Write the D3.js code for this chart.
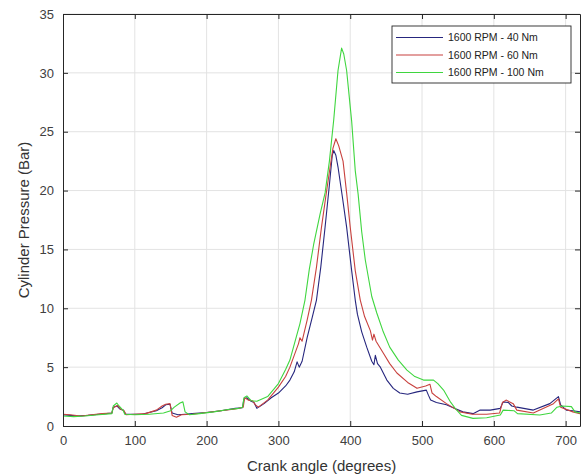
<!DOCTYPE html>
<html>
<head>
<meta charset="utf-8">
<script src="https://cdn.jsdelivr.net/npm/d3@7/dist/d3.min.js"></script>
<style>
  body { margin: 0; background: #fff; }
  svg { display: block; font-family: "Liberation Sans", Arial, sans-serif; }
</style>
</head>
<body>
<svg width="588" height="476"></svg>
<script>
// series: [crank angle (deg), cylinder pressure (bar)]
var series40 = [
  [0,0.95],[10,0.9],[20,0.85],[35,0.9],[50,1.0],[60,1.05],[68,1.1],[70,1.6],[75,1.7],[79,1.45],[84,1.35],[87,1.0],
  [100,1.0],[110,1.0],[120,1.15],[130,1.3],[138,1.55],[143,1.8],[149,1.85],[152,1.1],[160,0.95],[170,1.0],[180,1.05],
  [200,1.15],[220,1.3],[240,1.5],[250,1.55],[252,2.3],[256,2.4],[262,2.1],[266,2.0],[270,1.5],[280,1.9],[290,2.4],
  [300,2.8],[310,3.4],[316,3.9],[322,4.6],[326,5.45],[329,5.0],[333,5.5],[340,7.5],[347,9.2],[353,10.7],[359,13.5],
  [365,16.9],[371,20.5],[375,23.0],[377,23.4],[380,23.0],[383,22.0],[389,19.5],[395,16.9],[402,13.2],[407,10.7],
  [410,9.5],[416,8.0],[423,6.7],[430,5.5],[433,5.2],[435,6.0],[438,5.3],[442,5.0],[451,3.9],[460,3.2],[469,2.8],
  [480,2.7],[493,2.9],[506,3.05],[509,2.6],[512,2.2],[520,2.0],[534,1.8],[545,1.5],[557,1.2],[571,1.05],[581,1.35],
  [595,1.35],[609,1.5],[613,2.05],[620,2.0],[625,1.7],[632,1.6],[655,1.35],[678,1.9],[690,2.5],[693,1.8],[701,1.35],
  [710,1.3],[720,1.2]
];
var series60 = [
  [0,1.0],[10,0.95],[25,0.85],[40,0.95],[55,1.05],[68,1.1],[70,1.55],[76,1.75],[80,1.45],[85,1.3],[88,0.95],
  [100,1.0],[115,1.05],[130,1.35],[138,1.7],[143,1.85],[149,1.9],[152,0.9],[158,0.75],[165,0.95],[180,1.0],
  [200,1.15],[220,1.3],[240,1.45],[251,1.6],[253,2.4],[258,2.2],[264,2.15],[268,1.8],[272,1.6],[285,2.2],
  [300,3.3],[310,4.2],[316,5.0],[322,6.0],[328,7.0],[330,7.5],[333,7.2],[340,9.0],[346,10.7],[353,13.5],
  [360,16.9],[366,19.5],[372,22.0],[376,23.6],[380,24.4],[384,23.8],[390,22.5],[395,19.8],[400,16.9],[407,13.2],
  [414,10.7],[420,9.3],[428,8.1],[431,7.3],[433,7.8],[436,7.2],[446,6.2],[455,5.3],[465,4.5],[480,3.7],[493,3.2],
  [505,3.4],[511,3.55],[514,2.8],[520,2.5],[534,1.9],[553,1.2],[570,1.0],[590,1.0],[608,1.1],[612,2.0],[617,2.2],
  [627,1.9],[632,1.35],[655,1.1],[683,1.9],[690,2.3],[693,1.6],[710,1.2],[720,1.05]
];
var series100 = [
  [0,0.85],[15,0.8],[30,0.85],[50,0.95],[68,1.05],[70,1.7],[75,1.95],[78,1.7],[84,1.3],[86,1.0],[100,0.95],
  [120,1.0],[140,1.1],[150,1.3],[155,1.6],[163,1.95],[167,2.05],[170,1.2],[176,0.95],[190,1.05],[210,1.2],
  [230,1.4],[245,1.5],[250,1.6],[252,2.4],[256,2.55],[262,2.15],[270,2.1],[285,2.5],[300,3.6],[310,4.8],
  [316,5.6],[325,7.6],[330,8.7],[337,10.7],[343,13.3],[349,15.4],[358,18.0],[365,19.8],[371,22.5],[377,26.0],
  [383,30.2],[388,32.1],[391,31.6],[395,30.2],[402,25.9],[407,21.7],[411,19.7],[416,16.5],[421,14.1],[430,11.0],
  [437,9.6],[446,8.0],[455,6.7],[467,5.6],[479,4.75],[490,4.2],[502,3.9],[516,3.9],[522,3.6],[530,3.05],
  [540,2.0],[548,1.36],[555,0.9],[571,0.65],[590,0.7],[609,0.93],[613,1.35],[628,1.3],[633,1.05],[664,0.93],
  [680,1.1],[688,1.6],[695,1.7],[708,1.65],[713,1.2],[720,1.1]
];
var seriesNames = ['1600 RPM - 40 Nm', '1600 RPM - 60 Nm', '1600 RPM - 100 Nm'];
var seriesColors = ['#26267e', '#c8413e', '#3fd63f'];
var xTicks = [0, 100, 200, 300, 400, 500, 600, 700];
var yTicks = [0, 5, 10, 15, 20, 25, 30, 35];

var svg = d3.select('svg');
var mLeft = 63, mRight = 580, mTop = 14, mBottom = 426;

var x = d3.scaleLinear().domain([0, 720]).range([mLeft, mRight]);
var y = d3.scaleLinear().domain([0, 35]).range([mBottom, mTop]);

// grid
svg.append('g').selectAll('line').data(xTicks.slice(1)).join('line')
  .attr('x1', d => x(d)).attr('x2', d => x(d)).attr('y1', mTop).attr('y2', mBottom)
  .attr('stroke', '#e3e3e3').attr('stroke-width', 1);
svg.append('g').selectAll('line').data(yTicks.slice(1)).join('line')
  .attr('y1', d => y(d)).attr('y2', d => y(d)).attr('x1', mLeft).attr('x2', mRight)
  .attr('stroke', '#e3e3e3').attr('stroke-width', 1);

// lines
var line = d3.line().x(d => x(d[0])).y(d => y(d[1]));
[series40, series60, series100].forEach(function (s, i) {
  svg.append('path').datum(s).attr('d', line)
    .attr('fill', 'none').attr('stroke', seriesColors[i]).attr('stroke-width', 1.1)
    .attr('stroke-linejoin', 'round');
});

// axes (ticks inside)
svg.append('g').attr('transform', 'translate(0,' + mBottom + ')')
  .call(d3.axisBottom(x).tickValues(xTicks).tickSizeInner(-5).tickSizeOuter(0).tickPadding(10));
svg.append('g').attr('transform', 'translate(' + mLeft + ',0)')
  .call(d3.axisLeft(y).tickValues(yTicks).tickSizeInner(-5).tickSizeOuter(0).tickPadding(9));
svg.append('g').attr('transform', 'translate(0,' + mTop + ')')
  .call(d3.axisTop(x).tickValues(xTicks).tickSizeInner(-5).tickSizeOuter(0).tickFormat(''));
svg.append('g').attr('transform', 'translate(' + mRight + ',0)')
  .call(d3.axisRight(y).tickValues(yTicks).tickSizeInner(-5).tickSizeOuter(0).tickFormat(''));
svg.selectAll('.domain').attr('stroke', '#262626');
svg.selectAll('.tick line').attr('stroke', '#262626');
svg.selectAll('.tick text').attr('font-size', 13).attr('fill', '#404040')
  .attr('font-family', '"Liberation Sans", Arial, sans-serif');

// axis labels
svg.append('text').attr('x', (mLeft + mRight) / 2).attr('y', 471).attr('text-anchor', 'middle')
  .attr('font-size', 15).attr('fill', '#333').text('Crank angle (degrees)');
svg.append('text').attr('transform', 'translate(29,' + ((mTop + mBottom) / 2) + ') rotate(-90)')
  .attr('text-anchor', 'middle').attr('font-size', 15).attr('fill', '#333').text('Cylinder Pressure (Bar)');

// legend
var lg = svg.append('g');
lg.append('rect').attr('x', 392).attr('y', 26).attr('width', 179).attr('height', 57)
  .attr('fill', '#fff').attr('stroke', '#262626').attr('stroke-width', 0.9);
seriesNames.forEach(function (n, i) {
  var yy = 37.5 + i * 17.5;
  lg.append('line').attr('x1', 396).attr('x2', 443).attr('y1', yy).attr('y2', yy)
    .attr('stroke', seriesColors[i]).attr('stroke-width', 1.1);
  lg.append('text').attr('x', 448).attr('y', yy + 3.8).attr('font-size', 10.5).attr('fill', '#222').text(n);
});
</script>
</body>
</html>
